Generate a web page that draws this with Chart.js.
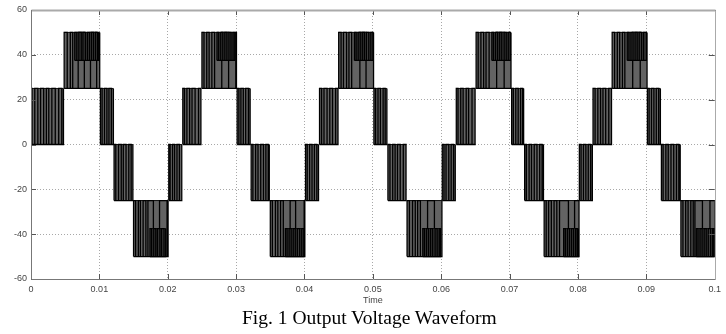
<!DOCTYPE html>
<html>
<head>
<meta charset="utf-8">
<script src="https://cdn.jsdelivr.net/npm/chart.js@4"></script>
<style>
  body { margin: 0; background: #fff; }
  #wrap { position: relative; width: 726px; height: 334px; }
  #caption {
    position: absolute; left: 242px; top: 308px;
    font: 19.5px/19px "Liberation Serif", "Times New Roman", serif;
    color: #000; white-space: nowrap;
  }
</style>
</head>
<body>
<div id="wrap">
  <canvas id="waveChart" width="726" height="334"></canvas>
  <div id="caption">Fig. 1 Output Voltage Waveform</div>
</div>
<script>
// axis labels
const xTickLabels = ['0', '0.01', '0.02', '0.03', '0.04', '0.05', '0.06', '0.07', '0.08', '0.09', '0.1'];
const yTickLabels = ['-60', '-40', '-20', '0', '20', '40', '60'];

// level blocks of the inverter output (time in ms, level in V)
const blockStart = [0, 4.85, 10.15, 12.15, 15.0, 20.15, 22.2, 25.0, 30.15, 32.2, 35.0, 40.15, 42.2, 45.0, 50.15,
  52.2, 55.0, 60.15, 62.2, 65.1, 70.3, 72.2, 75.05, 80.2, 82.2, 85.0, 90.15, 92.2, 95.05];
const blockEnd = [4.75, 10.05, 12.05, 14.9, 20.05, 22.05, 24.85, 30.05, 32.05, 34.85, 40.05, 42.05, 44.9, 50.1, 52.05,
  54.85, 60.1, 62.05, 64.95, 70.2, 72.05, 74.95, 80.15, 82.1, 84.9, 90.1, 92.05, 94.95, 100];
const blockLow = [0, 25, 0, -25, -50, -25, 0, 25, 0, -25, -50, -25, 0, 25, 0, -25, -50, -25,
  0, 25, 0, -25, -50, -25, 0, 25, 0, -25, -50];
const blockHigh = [25, 50, 25, 0, -25, 0, 25, 50, 25, 0, -25, 0, 25, 50, 25, 0, -25, 0,
  25, 50, 25, 0, -25, 0, 25, 50, 25, 0, -25];
// switching instants inside each block (ms)
const blockEdges = [
  [0.15, 0.55, 1.0, 1.4, 1.85, 2.25, 2.6, 3.05, 3.55, 4.05, 4.5],
  [5.3, 5.75, 6.1, 6.9, 7.8, 8.7, 9.6],
  [10.4, 10.75, 11.1, 11.4, 11.75],
  [12.4, 12.8, 13.2, 13.5, 13.9, 14.3, 14.65],
  [15.3, 15.7, 16.0, 16.4, 16.8, 17.1, 17.9, 18.8, 19.9],
  [20.35, 20.7, 21.0, 21.35, 21.7],
  [22.45, 22.8, 23.2, 23.55, 24.0, 24.5],
  [25.3, 25.7, 26.05, 26.45, 26.85, 27.9, 28.9, 29.95],
  [30.4, 30.7, 31.05, 31.4, 31.8],
  [32.45, 32.85, 33.2, 33.6, 34.0, 34.35, 34.7],
  [35.3, 35.75, 36.1, 36.5, 36.9, 37.9, 38.7, 39.95],
  [40.4, 40.75, 41.1, 41.45, 41.8],
  [42.5, 42.85, 43.3, 43.7, 44.1, 44.55],
  [45.35, 45.7, 46.15, 46.5, 46.9, 48.1, 49.0],
  [50.4, 50.75, 51.1, 51.5, 51.8],
  [52.5, 52.9, 53.25, 53.6, 54.0, 54.45],
  [55.35, 55.8, 56.2, 56.55, 56.95, 58.0, 59.0],
  [60.4, 60.7, 61.1, 61.45, 61.8],
  [62.45, 62.85, 63.2, 63.65, 64.0, 64.5],
  [65.4, 65.8, 66.2, 66.55, 67.0, 68.1, 69.2],
  [70.55, 70.9, 71.25, 71.6, 71.9],
  [72.45, 72.85, 73.2, 73.6, 74.0, 74.4, 74.75],
  [75.35, 75.7, 76.1, 76.5, 76.9, 77.3, 78.6, 79.5],
  [80.45, 80.8, 81.15, 81.5, 81.85],
  [82.5, 82.9, 83.3, 83.65, 84.05, 84.5],
  [85.35, 85.75, 86.1, 86.5, 86.85, 88.0, 89.1],
  [90.4, 90.75, 91.1, 91.45, 91.8],
  [92.45, 92.85, 93.2, 93.6, 94.0, 94.4, 94.75],
  [95.35, 95.75, 96.1, 96.5, 96.85, 97.1, 98.2, 99.3]
];

// dense switching near the peaks (outer half of the top level)
const subStart = [6.4, 17.4, 27.2, 37.2, 47.3, 57.3, 67.4, 77.9, 87.2, 97.3];
const subEnd = [9.95, 19.7, 29.8, 39.9, 50.0, 59.9, 70.1, 80.05, 90.0, 99.9];
const subLow = [37.5, -50, 37.5, -50, 37.5, -50, 37.5, -50, 37.5, -50];
const subHigh = [50, -37.5, 50, -37.5, 50, -37.5, 50, -37.5, 50, -37.5];
const subEdges = [
  [6.7, 7.0, 7.35, 7.6, 7.95, 8.25, 8.55, 8.85, 9.15, 9.45, 9.75],
  [17.65, 17.95, 18.25, 18.5, 18.85, 19.1, 19.45],
  [27.45, 27.75, 28.05, 28.35, 28.65, 28.95, 29.25, 29.55],
  [37.45, 37.75, 38.05, 38.35, 38.65, 38.95, 39.3, 39.6],
  [47.55, 47.85, 48.15, 48.45, 48.75, 49.05, 49.4, 49.7],
  [57.55, 57.85, 58.15, 58.45, 58.75, 59.1, 59.4, 59.7],
  [67.65, 67.95, 68.25, 68.55, 68.85, 69.2, 69.5, 69.8],
  [78.15, 78.45, 78.75, 79.05, 79.35, 79.65, 79.9],
  [87.45, 87.75, 88.05, 88.35, 88.65, 88.95, 89.3, 89.6],
  [97.55, 97.85, 98.15, 98.45, 98.75, 99.05, 99.4, 99.7]
];

const datasets = [];

// each block: a filled band plus a stepped trace for the switching edges
function addBlocks(starts, ends, lows, highs, edges, fillColor, order) {
  starts.forEach((s, i) => {
    const e = ends[i], lo = lows[i], hi = highs[i];
    datasets.push({
      data: [{x: s, y: hi}, {x: e, y: hi}],
      fill: {value: lo},
      backgroundColor: fillColor,
      borderColor: '#111',
      borderWidth: 1,
      pointRadius: 0,
      order: order + 1
    });
    const pts = [{x: s, y: lo}, {x: s, y: hi}];
    let level = hi;
    edges[i].forEach(t => {
      level = level === hi ? lo : hi;
      pts.push({x: t, y: level});
    });
    pts.push({x: e, y: level}, {x: e, y: hi}, {x: e, y: lo}, {x: s, y: lo});
    datasets.push({
      data: pts,
      stepped: true,
      fill: false,
      borderColor: '#000',
      borderWidth: 1.3,
      pointRadius: 0,
      order: order
    });
  });
}

addBlocks(blockStart, blockEnd, blockLow, blockHigh, blockEdges, '#636363', 3);
addBlocks(subStart, subEnd, subLow, subHigh, subEdges, '#3c3c3c', 1);

// plot box with inward tick marks on all four sides
const axisBox = {
  id: 'axisBox',
  afterDatasetsDraw(chart) {
    const {ctx, chartArea: a, scales} = chart;
    ctx.save();
    ctx.lineWidth = 1;
    ctx.strokeStyle = '#555';
    ctx.beginPath();
    scales.x.ticks.forEach(t => {
      const px = Math.round(scales.x.getPixelForValue(t.value)) + 0.5;
      ctx.moveTo(px, a.bottom); ctx.lineTo(px, a.bottom - 5);
      ctx.moveTo(px, a.top); ctx.lineTo(px, a.top + 5);
    });
    scales.y.ticks.forEach(t => {
      const py = Math.round(scales.y.getPixelForValue(t.value)) + 0.5;
      ctx.moveTo(a.left, py); ctx.lineTo(a.left + 5, py);
      ctx.moveTo(a.right, py); ctx.lineTo(a.right - 6, py);
    });
    ctx.stroke();

    const l = Math.round(a.left) + 0.5, r = Math.round(a.right) + 0.5;
    const t = Math.round(a.top) + 0.5, b = Math.round(a.bottom) + 0.5;
    ctx.strokeStyle = '#aaa';
    ctx.lineWidth = 2;
    ctx.beginPath(); ctx.moveTo(l, t); ctx.lineTo(r, t); ctx.stroke();
    ctx.lineWidth = 1;
    ctx.beginPath(); ctx.moveTo(r, t); ctx.lineTo(r, b); ctx.stroke();
    ctx.strokeStyle = '#777';
    ctx.beginPath(); ctx.moveTo(l, t); ctx.lineTo(l, b); ctx.lineTo(r, b); ctx.stroke();
    ctx.restore();
  }
};

const tickFont = {family: '"Liberation Sans", Arial, sans-serif', size: 9};
const gridColor = (ctx, last) =>
  (ctx.index === 0 || ctx.index === last) ? 'rgba(0,0,0,0)' : '#a8a8a8';

new Chart(document.getElementById('waveChart'), {
  type: 'line',
  data: {datasets: datasets},
  options: {
    responsive: false,
    animation: false,
    events: [],
    layout: {padding: {left: 0, top: 10, right: 11, bottom: 28}},
    plugins: {legend: {display: false}, tooltip: {enabled: false}},
    scales: {
      x: {
        type: 'linear',
        min: 0,
        max: 100,
        afterFit: scale => { scale.height = 27; },
        ticks: {
          stepSize: 10,
          font: tickFont,
          color: '#444',
          padding: 5,
          maxRotation: 0,
          callback: (v, i) => xTickLabels[i]
        },
        grid: {color: ctx => gridColor(ctx, 10), drawTicks: false},
        border: {display: false, dash: [1, 2]},
        title: {display: true, text: 'Time', font: tickFont, color: '#444', padding: 0}
      },
      y: {
        min: -60,
        max: 60,
        afterFit: scale => { scale.width = 31; },
        ticks: {
          stepSize: 20,
          font: tickFont,
          color: '#444',
          padding: 4,
          callback: (v, i) => yTickLabels[i]
        },
        grid: {color: ctx => gridColor(ctx, 6), drawTicks: false},
        border: {display: false, dash: [1, 2]}
      }
    }
  },
  plugins: [axisBox]
});
</script>
</body>
</html>
